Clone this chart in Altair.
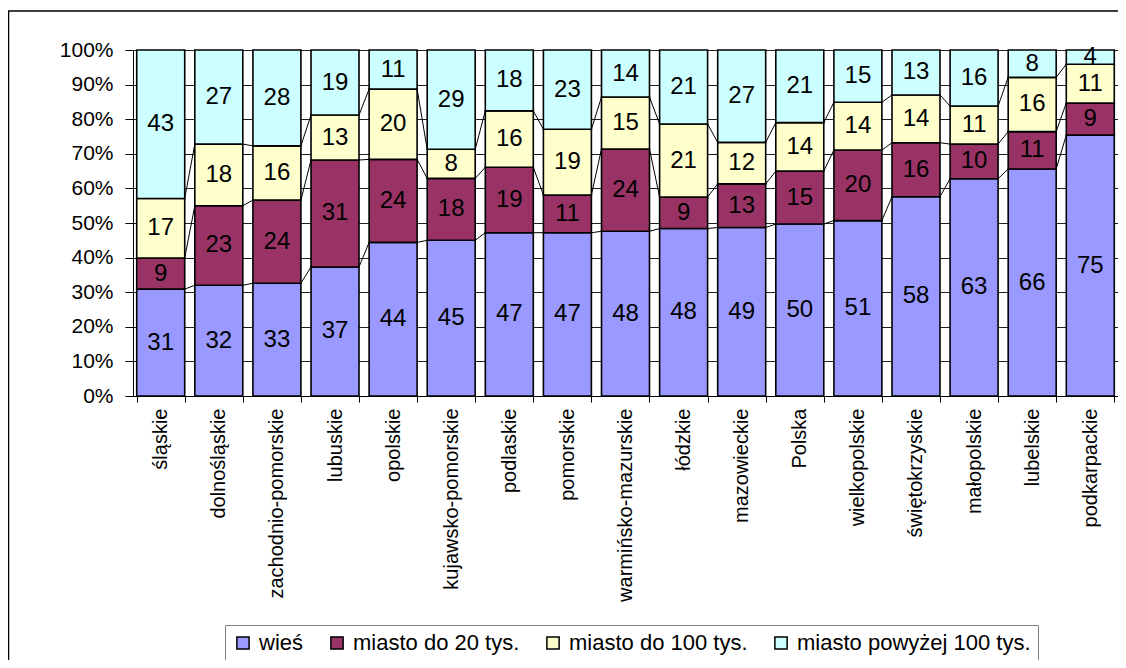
import altair as alt
import pandas as pd

FONT = "Liberation Sans"

categories = ["śląskie", "dolnośląskie", "zachodnio-pomorskie", "lubuskie", "opolskie",
              "kujawsko-pomorskie", "podlaskie", "pomorskie", "warmińsko-mazurskie", "łódzkie",
              "mazowieckie", "Polska", "wielkopolskie", "świętokrzyskie", "małopolskie",
              "lubelskie", "podkarpackie"]
series = ["wieś", "miasto do 20 tys.", "miasto do 100 tys.", "miasto powyżej 100 tys."]
colors = ["#9999FF", "#993366", "#FFFFCC", "#CCFFFF"]

wies = [30.9, 32.0, 32.6, 37.3, 44.4, 45.0, 47.2, 47.2, 47.6, 48.4, 48.7, 49.7, 50.7, 57.6, 62.8, 65.6, 75.4]
m20 = [9.0, 23.0, 24.0, 30.9, 24.0, 17.9, 18.9, 10.9, 23.8, 9.1, 12.6, 15.3, 20.4, 15.6, 10.0, 10.8, 9.3]
m100 = [17.2, 17.8, 15.7, 13.0, 20.3, 8.4, 16.3, 19.0, 15.0, 21.1, 12.0, 14.0, 13.8, 13.8, 11.0, 15.7, 11.2]
m100p = [42.9, 27.2, 27.7, 18.8, 11.3, 28.7, 17.6, 22.9, 13.6, 21.4, 26.7, 21.0, 15.1, 13.0, 16.2, 7.9, 4.1]

values = [wies, m20, m100, m100p]

rows = []
cum = []
for i, c in enumerate(categories):
    s = 0.0
    tops = []
    for k, name in enumerate(series):
        v = values[k][i]
        rows.append({"cat": c, "series": name, "start": s, "end": s + v,
                     "mid": s + v / 2, "label": f"{v:.0f}"})
        s += v
        tops.append(s)
    cum.append(tops)
df = pd.DataFrame(rows)

lrows = []
for i in range(len(categories) - 1):
    for k in range(3):
        lrows.append({"c1": categories[i], "c2": categories[i + 1],
                      "y1": cum[i][k], "y2": cum[i + 1][k]})
ldf = pd.DataFrame(lrows)

xscale = alt.Scale(domain=categories, paddingInner=0.174, paddingOuter=0.064)
xaxis = alt.Axis(title=None, labelAngle=-90, labelFontSize=20, labelFont=FONT, labelColor="black",
                 tickBand="extent", tickSize=6, tickColor="black", domainColor="black",
                 labelPadding=6, grid=False, labelLimit=0)
yscale = alt.Scale(domain=[0, 100], nice=False)
yaxis = alt.Axis(title=None, values=list(range(0, 101, 10)), labelExpr="datum.value + '%'",
                 labelFontSize=21, labelFont=FONT, labelColor="black", tickSize=8,
                 tickColor="black", domainColor="black", labelPadding=12, grid=True,
                 gridColor="#202020", gridWidth=1)

frame = alt.Chart(pd.DataFrame({"a": [0]})).mark_rect(
    fill="white", fillOpacity=0, stroke="black", strokeWidth=1.5, clip=False
).encode(x=alt.value(-124.5), x2=alt.value(1300), y=alt.value(-39), y2=alt.value(800))

bars = alt.Chart(df).mark_bar(stroke="black", strokeWidth=1.6).encode(
    x=alt.X("cat:N", sort=None, scale=xscale, axis=xaxis),
    y=alt.Y("start:Q", scale=yscale, axis=yaxis),
    y2="end:Q",
    color=alt.Color("series:N", scale=alt.Scale(domain=series, range=colors),
                    legend=alt.Legend(title=None, orient="none", legendX=92, legendY=575,
                                      direction="horizontal", labelFont=FONT, labelFontSize=22,
                                      labelColor="black", symbolType="square", symbolSize=150,
                                      symbolStrokeColor="black", symbolStrokeWidth=1.5,
                                      strokeColor="#808080", fillColor="white", padding=7,
                                      labelOffset=5, columnPadding=22, labelLimit=0)),
)

lines = alt.Chart(ldf).mark_rule(color="black", strokeWidth=1).encode(
    x=alt.X("c1:N", sort=None, scale=xscale, axis=xaxis, bandPosition=1),
    x2=alt.X2("c2", bandPosition=0),
    y=alt.Y("y1:Q", scale=yscale, axis=yaxis),
    y2="y2:Q",
)

texts = alt.Chart(df).mark_text(font=FONT, fontSize=24, color="black", baseline="middle").encode(
    x=alt.X("cat:N", sort=None, scale=xscale, axis=xaxis),
    y=alt.Y("mid:Q", scale=yscale, axis=yaxis),
    text="label:N",
)

chart = alt.layer(frame, bars, lines, texts).properties(
    width=985, height=346,
    padding={"left": 125, "top": 42, "right": 0, "bottom": 264},
    autosize=alt.AutoSizeParams(type="none"),
    background="white",
).configure_view(stroke=None)

chart.save("out.html", embed_options={"renderer": "svg", "actions": False})
